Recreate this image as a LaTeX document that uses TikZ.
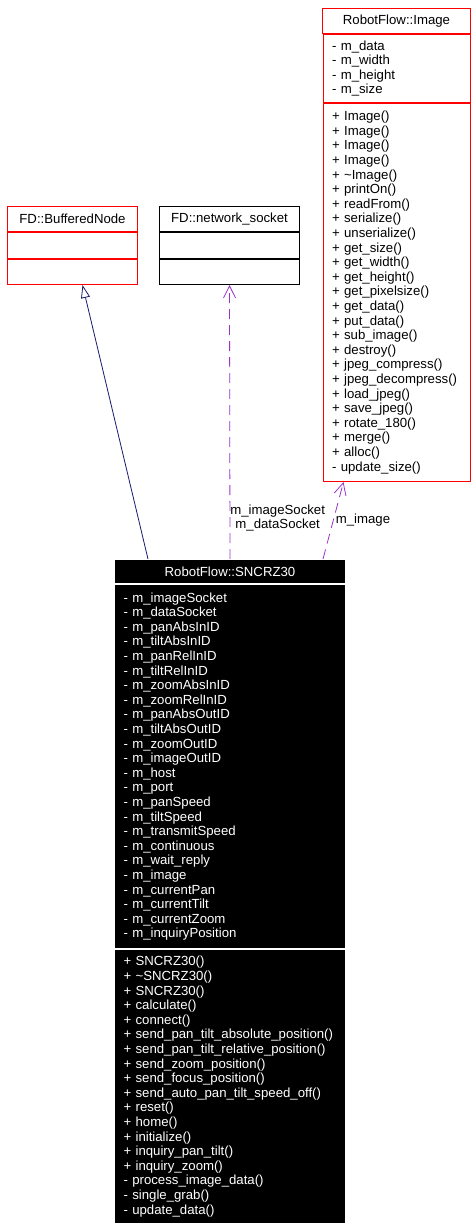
\documentclass[tikz,border=0pt]{standalone}
\usepackage{fontspec}
\setmainfont{Liberation Sans}
\usetikzlibrary{positioning,arrows.meta}
\definecolor{inheritblue}{HTML}{191970}
\definecolor{usepurple}{HTML}{9A32CD}
\newcommand{\classfont}{\fontsize{13.2}{14.6}\selectfont}

\begin{document}
\begin{tikzpicture}[x=1pt,y=1pt,
                    part/.style={draw, line width=1pt, inner xsep=9pt, inner ysep=0pt,
                                 font=\classfont, align=left},
                    head/.style={part, inner xsep=0pt, align=center, anchor=north west},
                    redcls/.style={draw=red},
                    blackcls/.style={draw=black},
                    darkcls/.style={fill=black, draw=white, text=white},
                    inherit/.style={draw=inheritblue, line width=0.8pt,
                                    -{Triangle[open, length=13pt, width=9pt]}},
                    member/.style={draw=usepurple, line width=0.8pt, dash pattern=on 10pt off 6pt,
                                   -{Straight Barb[length=12pt, width=12pt]}},
                    role/.style={font=\classfont, inner sep=0pt, anchor=west, align=center}]
                    \useasboundingbox (0,0) rectangle (476,-1228);

                    \node (imgHead) [head, redcls, text width=148pt, minimum height=25pt] at (322,-8)
                          {RobotFlow::Image};
                    \node (imgAttr) [part, redcls, text width=129pt, minimum height=68pt, below=0pt of imgHead]
                          {- m\_data\\- m\_width\\- m\_height\\- m\_size};
                    \node (imgMeth) [part, redcls, text width=129pt, minimum height=378pt, below=0pt of imgAttr]
                          {+ Image()\\+ Image()\\+ Image()\\+ Image()\\+ \textasciitilde{}Image()\\
                           + printOn()\\+ readFrom()\\+ serialize()\\+ unserialize()\\+ get\_size()\\
                           + get\_width()\\+ get\_height()\\+ get\_pixelsize()\\+ get\_data()\\
                           + put\_data()\\+ sub\_image()\\+ destroy()\\+ jpeg\_compress()\\
                           + jpeg\_decompress()\\+ load\_jpeg()\\+ save\_jpeg()\\+ rotate\_180()\\
                           + merge()\\+ alloc()\\- update\_size()};

                    \node (bnHead)  [head, redcls, text width=130pt, minimum height=25pt] at (7,-206)
                          {FD::BufferedNode};
                    \node (bnAttr)  [part, redcls, text width=112pt, minimum height=26pt, below=0pt of bnHead] {};
                    \node (bnMeth)  [part, redcls, text width=112pt, minimum height=25pt, below=0pt of bnAttr] {};

                    \node (nsHead)  [head, blackcls, text width=140pt, minimum height=25pt] at (159,-206)
                          {FD::network\_socket};
                    \node (nsAttr)  [part, blackcls, text width=122pt, minimum height=26pt, below=0pt of nsHead] {};
                    \node (nsMeth)  [part, blackcls, text width=122pt, minimum height=25pt, below=0pt of nsAttr] {};

                    \node (sncHead) [head, darkcls, text width=231pt, minimum height=24pt] at (114,-559)
                          {RobotFlow::SNCRZ30};
                    \node (sncAttr) [part, darkcls, text width=213pt, minimum height=364pt, below=0pt of sncHead]
                          {- m\_imageSocket\\- m\_dataSocket\\- m\_panAbsInID\\- m\_tiltAbsInID\\
                           - m\_panRelInID\\- m\_tiltRelInID\\- m\_zoomAbsInID\\- m\_zoomRelInID\\
                           - m\_panAbsOutID\\- m\_tiltAbsOutID\\- m\_zoomOutID\\- m\_imageOutID\\
                           - m\_host\\- m\_port\\- m\_panSpeed\\- m\_tiltSpeed\\- m\_transmitSpeed\\
                           - m\_continuous\\- m\_wait\_reply\\- m\_image\\- m\_currentPan\\
                           - m\_currentTilt\\- m\_currentZoom\\- m\_inquiryPosition};
                    \node (sncMeth) [part, darkcls, text width=213pt, minimum height=274pt, below=0pt of sncAttr]
                          {+ SNCRZ30()\\+ \textasciitilde{}SNCRZ30()\\+ SNCRZ30()\\+ calculate()\\
                           + connect()\\+ send\_pan\_tilt\_absolute\_position()\\
                           + send\_pan\_tilt\_relative\_position()\\+ send\_zoom\_position()\\
                           + send\_focus\_position()\\+ send\_auto\_pan\_tilt\_speed\_off()\\
                           + reset()\\+ home()\\+ initialize()\\+ inquiry\_pan\_tilt()\\
                           + inquiry\_zoom()\\- process\_image\_data()\\- single\_grab()\\- update\_data()};

                    \draw [inherit] ([xshift=34pt]sncHead.north west) -- ([xshift=10pt]bnMeth.south);
                    \draw [member]  (sncHead.north) -- (nsMeth.south)
                                    node[role, pos=0.15] {m\_imageSocket\\m\_dataSocket};
                    \draw [member]  ([xshift=-23pt]sncHead.north east) -- ([xshift=-53pt]imgMeth.south)
                                    node[role, pos=0.51, inner sep=2pt] {m\_image};
                \end{tikzpicture}
\end{document}
